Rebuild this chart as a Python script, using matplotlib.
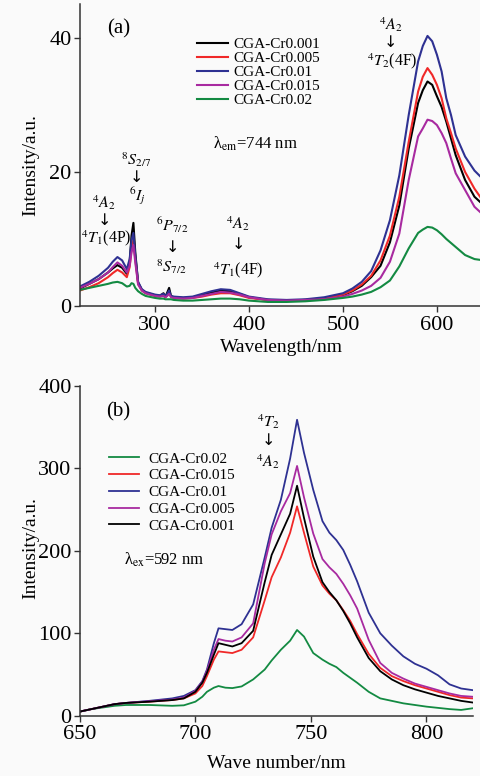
import matplotlib
matplotlib.use('Agg')
import matplotlib.pyplot as plt

plt.rcParams['font.family'] = ['Liberation Serif', 'DejaVu Serif']
plt.rcParams['mathtext.fontset'] = 'stix'

# ---- panel (a): excitation spectra, lambda_em = 744 nm
wl_a = [220, 230, 240, 250, 255, 260, 265, 270, 273, 275, 277, 279, 282, 286, 290,
        300, 305, 309, 311, 313, 315, 317, 320, 330, 340, 350, 360, 370, 380, 390,
        400, 420, 440, 460, 480, 500, 510, 520, 530, 540, 550, 560, 570, 580, 585,
        590, 595, 600, 605, 610, 615, 620, 630, 640, 650]

cr0001_a = [2.6, 3.3, 4.0, 5.0, 5.6, 6.1, 5.7, 4.8, 6.5, 10.5, 12.4, 8.0, 3.5, 2.4, 2.0,
            1.6, 1.5, 1.9, 1.4, 2.0, 2.7, 1.5, 1.3, 1.2, 1.3, 1.6, 2.0, 2.3, 2.2, 1.8,
            1.3, 0.9, 0.8, 0.9, 1.1, 1.6, 2.2, 3.0, 4.3, 6.0, 9.5, 15.0, 23.5, 30.3, 32.2,
            33.5, 33.0, 31.3, 29.7, 27.5, 25.0, 22.5, 18.8, 16.3, 15.0]
cr0005_a = [2.3, 2.8, 3.4, 4.3, 4.9, 5.4, 5.0, 4.3, 5.8, 8.5, 9.8, 7.0, 3.3, 2.3, 1.9,
            1.5, 1.4, 1.6, 1.3, 1.6, 2.0, 1.4, 1.2, 1.1, 1.2, 1.4, 1.7, 1.9, 1.9, 1.6,
            1.2, 0.9, 0.8, 0.9, 1.1, 1.7, 2.3, 3.2, 4.5, 6.8, 10.5, 16.3, 24.5, 32.0, 34.2,
            35.5, 34.5, 33.0, 31.0, 28.0, 25.8, 23.5, 20.0, 17.5, 15.5]
cr001_a = [2.9, 3.6, 4.5, 5.7, 6.6, 7.3, 6.8, 5.5, 7.0, 9.8, 10.9, 7.5, 3.6, 2.5, 2.1,
           1.7, 1.6, 1.8, 1.5, 1.8, 2.3, 1.5, 1.4, 1.3, 1.4, 1.8, 2.2, 2.5, 2.4, 1.9,
           1.4, 1.0, 0.9, 1.0, 1.3, 1.9, 2.6, 3.6, 5.2, 8.3, 12.8, 19.5, 28.5, 36.5, 38.8,
           40.3, 39.5, 37.5, 35.0, 31.0, 28.5, 25.5, 22.3, 20.2, 18.8]
cr0015_a = [2.7, 3.3, 4.0, 5.0, 5.8, 6.5, 6.0, 5.0, 6.0, 8.0, 9.1, 6.5, 3.2, 2.3, 1.9,
            1.5, 1.4, 1.5, 1.3, 1.5, 1.8, 1.3, 1.2, 1.1, 1.2, 1.5, 1.8, 2.1, 2.0, 1.7,
            1.3, 0.9, 0.8, 0.9, 1.0, 1.4, 1.8, 2.3, 3.0, 4.2, 6.6, 10.8, 18.8, 25.3, 26.5,
            27.8, 27.6, 27.0, 25.8, 24.3, 22.0, 19.8, 17.3, 14.8, 13.5]
cr002_a = [2.4, 2.7, 3.0, 3.3, 3.5, 3.6, 3.4, 2.9, 3.0, 3.4, 3.3, 2.7, 2.2, 1.8, 1.5,
           1.2, 1.1, 1.1, 1.0, 1.0, 1.0, 1.0, 0.9, 0.8, 0.8, 0.9, 1.0, 1.1, 1.1, 1.0,
           0.8, 0.6, 0.6, 0.7, 0.9, 1.2, 1.4, 1.7, 2.1, 2.8, 3.8, 5.9, 8.6, 10.9, 11.4,
           11.8, 11.7, 11.3, 10.7, 10.0, 9.4, 8.8, 7.6, 7.0, 6.8]

labels_a = ['CGA-Cr0.001', 'CGA-Cr0.005', 'CGA-Cr0.01', 'CGA-Cr0.015', 'CGA-Cr0.02']
series_a = [cr0001_a, cr0005_a, cr001_a, cr0015_a, cr002_a]
colors_a = ['#000000', '#f02828', '#2e3192', '#a82aa0', '#138a42']

# ---- panel (b): emission spectra, lambda_ex = 592 nm
wl_b = [650, 655, 660, 665, 670, 680, 690, 695, 700, 703, 705, 708, 710, 713, 716,
        720, 725, 730, 733, 737, 741, 744, 747, 751, 755, 758, 761, 764, 767, 770,
        775, 780, 785, 790, 795, 800, 805, 810, 815, 820]

cr002_b = [5, 8, 10, 12, 13, 13, 12, 12.6, 17, 23, 29, 34, 36, 34, 33.5,
           35.5, 44, 56, 67, 80, 91, 104, 96, 76, 68, 63, 59, 52, 46, 40,
           29, 21, 18, 15, 13, 11, 9.5, 8, 7, 9]
cr0015_b = [5, 8, 11, 14, 15.5, 17, 19, 21, 27, 36, 48, 68, 78, 77, 76,
            80, 95, 140, 168, 192, 222, 254, 222, 181, 158, 148, 140, 128, 115, 99,
            75, 58, 48, 42, 37, 33, 29, 25, 22, 21]
cr001_b = [5, 8, 11, 14, 15.5, 18, 21, 24, 31, 42, 56, 88, 106, 105, 104,
           111, 135, 192, 228, 262, 312, 359, 319, 274, 236, 222, 213, 201, 183, 163,
           125, 100, 85, 72, 63, 57, 49, 38, 33, 31]
cr0005_b = [5, 8, 11, 14, 15.5, 17.5, 19.5, 22, 30, 41, 54, 80, 93, 91, 90,
            95, 112, 185, 220, 248, 270, 303, 265, 221, 190, 180, 172, 160, 146, 130,
            92, 64, 52, 45, 39, 35, 31, 27, 24, 23]
cr0001_b = [5, 8, 11, 14, 15.5, 17, 19, 21, 29, 40, 52, 74, 88, 86, 84,
            88, 103, 162, 195, 220, 245, 279, 240, 193, 162, 150, 140, 127, 112, 95,
            70, 54, 44, 37, 32, 28, 24, 21, 18, 16]

labels_b = ['CGA-Cr0.02', 'CGA-Cr0.015', 'CGA-Cr0.01', 'CGA-Cr0.005', 'CGA-Cr0.001']
series_b = [cr002_b, cr0015_b, cr001_b, cr0005_b, cr0001_b]
colors_b = ['#138a42', '#f02828', '#2e3192', '#a82aa0', '#000000']

bg = '#fafafa'
fig = plt.figure(figsize=(4.81, 7.76), dpi=100, facecolor=bg)


def style_axes(ax):
    ax.set_facecolor(bg)
    for s in ['top', 'right']:
        ax.spines[s].set_visible(False)
    for s in ['left', 'bottom']:
        ax.spines[s].set_linewidth(1.1)
        ax.spines[s].set_color('#333333')
    ax.tick_params(direction='out', length=4, width=1, labelsize=16, pad=2,
                   color='#333333')
    ax.tick_params(axis='x', pad=3)


# annotation helper: upper level, arrow, lower level stacked
def transition(ax, x, y_top, y_arr, y_bot, top, bot, dx_bot=0.0, size=11.5):
    ax.text(x, y_top, top, fontsize=size, ha='center', va='center')
    ax.text(x, y_arr, '↓', fontsize=size, ha='center', va='center',
            family='DejaVu Sans')
    ax.text(x + dx_bot, y_bot, bot, fontsize=size, ha='center', va='center')


# panel (a)
ax1 = fig.add_axes([0.166, 0.6057, 0.840, 0.3886])
style_axes(ax1)
for y, c, lab in zip(series_a, colors_a, labels_a):
    ax1.plot(wl_a, y, color=c, lw=1.5, label=lab)
ax1.set_xlim(220, 650)
ax1.set_ylim(0, 45)
ax1.set_xticks([300, 400, 500, 600])
ax1.set_yticks([0, 20, 40])
ax1.legend(loc='upper left', bbox_to_anchor=(0.29, 0.89), frameon=False,
           fontsize=11, handlelength=2.0, handletextpad=0.35, labelspacing=0.02,
           borderpad=0, borderaxespad=0)

ax1.text(261.5, 41.3, '(a)', fontsize=15, ha='center', va='center')
ax1.text(362, 24.2, 'λ$_{\\rm em}$=744 nm', fontsize=12, ha='left', va='center')

transition(ax1, 551, 42.0, 39.3, 36.5, r'$^4A_2$', r'$^4T_2$(4F)', dx_bot=1)
transition(ax1, 279.8, 21.9, 19.2, 16.3, r'$^8S_{2/7}$', r'$^6I_j$', dx_bot=1.5)
transition(ax1, 245.7, 15.4, 12.8, 10.2, r'$^4A_2$', r'$^4T_1$(4P)', dx_bot=2)
transition(ax1, 318.8, 12.1, 8.8, 5.8, r'$^6P_{7/2}$', r'$^8S_{7/2}$', dx_bot=-1.5)
transition(ax1, 388.6, 12.3, 9.1, 5.4, r'$^4A_2$', r'$^4T_1$(4F)', dx_bot=-0.5)

# panel (b)
ax2 = fig.add_axes([0.166, 0.0777, 0.8167, 0.4249])
style_axes(ax2)
for y, c, lab in zip(series_b, colors_b, labels_b):
    ax2.plot(wl_b, y, color=c, lw=1.3, label=lab)
ax2.set_xlim(650, 820)
ax2.set_ylim(0, 400)
ax2.set_xticks([650, 700, 750, 800])
ax2.set_yticks([0, 100, 200, 300, 400])
ax2.legend(loc='upper left', bbox_to_anchor=(0.073, 0.80), frameon=False,
           fontsize=11, handlelength=2.0, handletextpad=0.6, labelspacing=0.2,
           borderpad=0, borderaxespad=0)

ax2.text(666.5, 369, '(b)', fontsize=15, ha='center', va='center')
transition(ax2, 731.4, 357, 334, 308, r'$^4T_2$', r'$^4A_2$')
ax2.text(669, 189, 'λ$_{\\rm ex}$=592 nm', fontsize=12, ha='left', va='center')

fig.text(31 / 481, 1 - 165 / 776, 'Intensity/a.u.', rotation=90, fontsize=14,
         ha='center', va='center')
fig.text(31 / 481, 1 - 548 / 776, 'Intensity/a.u.', rotation=90, fontsize=14,
         ha='center', va='center')
fig.text(281 / 481, 1 - 348 / 776, 'Wavelength/nm', fontsize=14, ha='center', va='center')
fig.text(276 / 481, 1 - 763 / 776, 'Wave number/nm', fontsize=14, ha='center', va='center')

fig.savefig('out.png', dpi=100, facecolor=bg)
